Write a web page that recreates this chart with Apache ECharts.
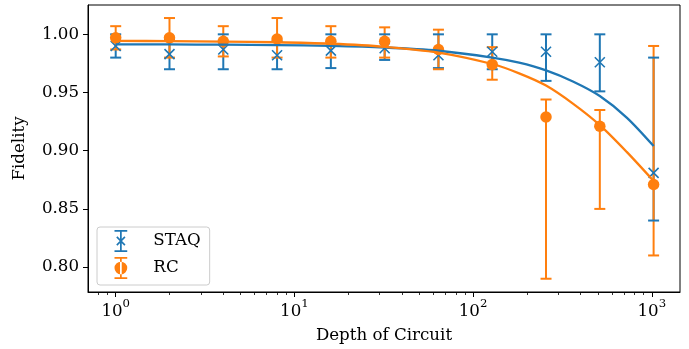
<!DOCTYPE html>
<html>
<head>
<meta charset="utf-8">
<script src="https://cdn.jsdelivr.net/npm/echarts@6/dist/echarts.min.js"></script>
<style>
html,body{margin:0;padding:0;background:#fff;}
#chart{width:689px;height:349px;}
</style>
</head>
<body>
<div id="chart"></div>
<script>
// ---- data ----
const depths = [1, 2, 4, 8, 16, 32, 64, 128, 256, 512, 1024];
const staqMean = [0.990, 0.983, 0.987, 0.982, 0.986, 0.988, 0.982, 0.985, 0.985, 0.976, 0.881];
const staqLow  = [0.980, 0.970, 0.970, 0.970, 0.971, 0.978, 0.971, 0.970, 0.960, 0.951, 0.840];
const staqHigh = [1.000, 0.996, 1.000, 0.994, 1.000, 1.000, 1.000, 1.000, 1.000, 1.000, 0.980];
const rcMean = [0.997, 0.997, 0.994, 0.996, 0.994, 0.994, 0.987, 0.974, 0.929, 0.921, 0.871];
const rcLow  = [0.987, 0.980, 0.981, 0.980, 0.980, 0.980, 0.970, 0.961, 0.790, 0.850, 0.810];
const rcHigh = [1.007, 1.014, 1.007, 1.014, 1.007, 1.006, 1.004, 0.989, 0.944, 0.935, 0.990];
const fitDepths = [1, 2, 4, 8, 16, 32, 64, 128, 181, 256, 362, 512, 724, 1024];
const staqFit = [0.9914, 0.9913, 0.9911, 0.9908, 0.9901, 0.9887, 0.9859, 0.9800, 0.9756, 0.9690, 0.9595, 0.9470, 0.9285, 0.9040];
const rcFit   = [0.9943, 0.9942, 0.9938, 0.9932, 0.9919, 0.9893, 0.9843, 0.9745, 0.9665, 0.9560, 0.9405, 0.9220, 0.8990, 0.8740];
const xMajorTicks = [1, 10, 100, 1000];
const xMinorTicks = [0.8, 0.9, 2, 3, 4, 5, 6, 7, 8, 9, 20, 30, 40, 50, 60, 70, 80, 90, 200, 300, 400, 500, 600, 700, 800, 900];
const yTicks = [0.80, 0.85, 0.90, 0.95, 1.00];
const seriesNames = ['STAQ', 'RC'];
const xTitle = 'Depth of Circuit';
const yTitle = 'Fidelity';

const BLUE = '#1f77b4', ORANGE = '#ff7f0e';
const FONT = 'DejaVu Serif';
const FS = 16.67;
const lg = v => Math.log10(v);

function ebData(mean, lo, hi) { return depths.map((d, i) => [lg(d), lo[i], hi[i], mean[i]]); }
function barRender(color) {
  return function (params, api) {
    const a = api.coord([api.value(0), api.value(1)]);
    const b = api.coord([api.value(0), api.value(2)]);
    return { type: 'line', shape: { x1: a[0], y1: a[1], x2: b[0], y2: b[1] },
      style: { stroke: color, lineWidth: 2 } };
  };
}
function capRender(color) {
  return function (params, api) {
    const a = api.coord([api.value(0), api.value(1)]);
    const b = api.coord([api.value(0), api.value(2)]);
    const w = 5.5;
    return { type: 'group', children: [
      { type: 'line', shape: { x1: a[0] - w, y1: a[1], x2: a[0] + w, y2: a[1] }, style: { stroke: color, lineWidth: 2 } },
      { type: 'line', shape: { x1: b[0] - w, y1: b[1], x2: b[0] + w, y2: b[1] }, style: { stroke: color, lineWidth: 2 } }
    ] };
  };
}

const xIconPath = 'path://M4.75,0h1.5v19h-1.5z M0,0h11v1.6h-11z M0,17.4h11v1.6h-11z M1.5,6.5L2.5,5.5L9.5,12.5L8.5,13.5z M8.5,5.5L9.5,6.5L2.5,13.5L1.5,12.5z';
const oIconPath = 'path://M4.75,0h1.5v19h-1.5z M0,0h11v1.6h-11z M0,17.4h11v1.6h-11z M0,9.5A5.5,5.5 0 1,0 11,9.5A5.5,5.5 0 1,0 0,9.5z';

const chart = echarts.init(document.getElementById('chart'), null, { renderer: 'canvas' });
const xMin = -0.155, xMax = 3.158;
chart.setOption({
  animation: false,
  backgroundColor: '#fff',
  textStyle: { fontFamily: FONT },
  grid: { left: 88, right: 9, top: 5, bottom: 56, show: true, borderColor: '#000', borderWidth: 1, backgroundColor: 'transparent' },
  legend: {
    left: 97, top: 227, orient: 'vertical',
    padding: [3, 9, 6, 17.5],
    itemWidth: 13, itemHeight: 22, itemGap: 5,
    backgroundColor: 'rgba(255,255,255,0.8)', borderColor: '#cccccc', borderWidth: 1, borderRadius: 3,
    textStyle: { fontFamily: FONT, fontSize: FS, color: '#000', padding: [0, 0, 0, 21] },
    selectedMode: false,
    data: [
      { name: seriesNames[0], icon: xIconPath, itemStyle: { color: BLUE } },
      { name: seriesNames[1], icon: oIconPath, itemStyle: { color: ORANGE } }
    ]
  },
  xAxis: [{
    type: 'value', min: xMin, max: xMax, position: 'bottom',
    name: xTitle, nameLocation: 'middle', nameGap: 35,
    nameTextStyle: { fontFamily: FONT, fontSize: FS, color: '#000' },
    splitLine: { show: false },
    axisLine: { onZero: false, lineStyle: { color: '#000', width: 1 } },
    axisTick: { customValues: xMajorTicks.map(lg), length: 5, lineStyle: { color: '#000', width: 1 } },
    axisLabel: {
      customValues: xMajorTicks.map(lg), margin: 6,
      formatter: v => '{b|10}{s|' + Math.round(v) + '}',
      rich: {
        b: { fontFamily: FONT, fontSize: FS, color: '#000', verticalAlign: 'bottom', padding: [5, 0, 0, 0] },
        s: { fontFamily: FONT, fontSize: 11.7, color: '#000', verticalAlign: 'top' }
      }
    }
  }, {
    type: 'value', min: xMin, max: xMax, position: 'bottom', gridIndex: 0,
    splitLine: { show: false },
    axisLine: { show: false, onZero: false },
    axisTick: { customValues: xMinorTicks.map(lg), length: 3, lineStyle: { color: '#000', width: 0.8 } },
    axisLabel: { show: false }
  }],
  yAxis: {
    type: 'value', min: 0.7786, max: 1.0252,
    name: yTitle, nameLocation: 'middle', nameGap: 60, nameRotate: 90,
    nameTextStyle: { fontFamily: FONT, fontSize: FS, color: '#000' },
    splitLine: { show: false },
    axisLine: { show: true, onZero: false, lineStyle: { color: '#000', width: 1 } },
    axisTick: { show: true, customValues: yTicks, length: 5, lineStyle: { color: '#000', width: 1 } },
    axisLabel: { customValues: yTicks, margin: 9, fontFamily: FONT, fontSize: FS, color: '#000',
      formatter: v => v.toFixed(2) }
  },
  series: [
    { name: seriesNames[0], type: 'custom', data: ebData(staqMean, staqLow, staqHigh), renderItem: barRender(BLUE), encode: { x: 0, y: [1, 2] }, itemStyle: { color: BLUE } },
    { name: seriesNames[1], type: 'custom', data: ebData(rcMean, rcLow, rcHigh), renderItem: barRender(ORANGE), encode: { x: 0, y: [1, 2] }, itemStyle: { color: ORANGE } },
    { name: seriesNames[0], type: 'custom', data: ebData(staqMean, staqLow, staqHigh), renderItem: capRender(BLUE), encode: { x: 0, y: [1, 2] }, itemStyle: { color: BLUE } },
    { name: seriesNames[1], type: 'custom', data: ebData(rcMean, rcLow, rcHigh), renderItem: capRender(ORANGE), encode: { x: 0, y: [1, 2] }, itemStyle: { color: ORANGE } },
    { name: seriesNames[0], type: 'scatter', data: depths.map((d, i) => [lg(d), staqMean[i]]),
      symbol: 'path://M0,0L10,10M10,0L0,10', symbolSize: 10,
      itemStyle: { color: 'none', borderColor: BLUE, borderWidth: 1.6, opacity: 1 } },
    { name: seriesNames[1], type: 'scatter', data: depths.map((d, i) => [lg(d), rcMean[i]]),
      symbol: 'circle', symbolSize: 11.5, itemStyle: { color: ORANGE, opacity: 1 } },
    { name: seriesNames[0], type: 'line', data: fitDepths.map((d, i) => [lg(d), staqFit[i]]),
      smooth: 0.3, showSymbol: false, symbol: 'none', lineStyle: { color: BLUE, width: 2.3 }, itemStyle: { color: BLUE } },
    { name: seriesNames[1], type: 'line', data: fitDepths.map((d, i) => [lg(d), rcFit[i]]),
      smooth: 0.3, showSymbol: false, symbol: 'none', lineStyle: { color: ORANGE, width: 2.3 }, itemStyle: { color: ORANGE } }
  ]
});
</script>
</body>
</html>
